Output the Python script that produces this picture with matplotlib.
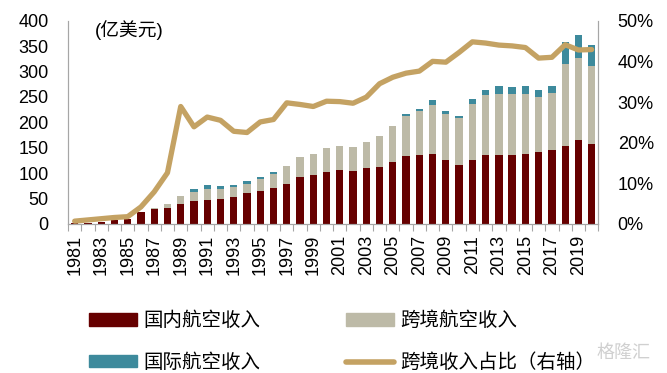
import matplotlib
matplotlib.use("Agg")
import matplotlib.pyplot as plt
import numpy as np
from matplotlib.patches import Patch
from matplotlib.lines import Line2D

plt.rcParams['font.family'] = ['Liberation Sans', 'Noto Sans CJK SC', 'DejaVu Sans']

years = list(range(1981, 2021))
domestic = [1, 2, 4.5, 7, 9, 23, 29, 32, 40, 46, 48, 50, 54, 60, 65, 71, 79, 92, 97, 103,
            106, 105, 110, 113, 122, 133, 136, 137, 126, 116, 126, 136, 136, 136, 137, 141, 146, 154, 165, 158]
crossborder = [0, 0, 0.1, 0.1, 0.2, 1, 2, 7, 15, 17, 21, 19, 19, 19, 23, 27, 35, 39, 41, 46,
               48, 47, 51, 60, 71, 80, 86, 98, 90, 92, 111, 118, 119, 119, 119, 109, 112, 160, 161, 153]
international = [0, 0, 0, 0, 0, 0, 0, 0, 0, 6, 7, 5, 3, 5, 4, 4, 0, 0, 0, 0,
                 0, 0, 0, 0, 0, 3, 4, 8, 6, 5, 8, 9, 16, 14, 15, 13, 14, 45, 45, 42]
share = [0.7, 1.0, 1.3, 1.6, 1.8, 4.2, 7.9, 12.6, 28.9, 23.9, 26.3, 25.5, 22.8, 22.5, 25.1, 25.7,
         29.8, 29.4, 28.9, 30.2, 30.1, 29.7, 31.2, 34.5, 36.1, 37.1, 37.6, 40.0, 39.8, 42.2,
         44.8, 44.5, 44.0, 43.8, 43.4, 40.8, 41.0, 44.1, 42.8, 42.9]
left_ticks = [0, 50, 100, 150, 200, 250, 300, 350, 400]
right_ticks = [0, 10, 20, 30, 40, 50]
labels = ['国内航空收入', '国际航空收入', '跨境航空收入', '跨境收入占比（右轴）']

c_dom = '#660000'
c_cross = '#BDBAA7'
c_intl = '#3D8A9C'
c_line = '#C4A263'
c_spine = '#A6A6A6'

fig = plt.figure(figsize=(6.67, 3.73), dpi=100)
ax = fig.add_axes([0.102, 0.3995, 0.795, 0.545])
x = np.array(years)
dom = np.array(domestic)
cro = np.array(crossborder)
intl = np.array(international)
w = 0.55
ax.bar(x, dom, w, color=c_dom, zorder=2)
ax.bar(x, cro, w, bottom=dom, color=c_cross, zorder=2)
ax.bar(x, intl, w, bottom=dom + cro, color=c_intl, zorder=2)
ax.set_xlim(1980.5, 2020.5)
ax.set_ylim(0, 400)
ax.set_yticks(left_ticks)
ax.tick_params(axis='y', length=0, labelsize=13, pad=14)
ax.set_xticks(np.arange(1980.5, 2021, 1))
ax.set_xticklabels([])
ax.set_xticks([y for y in years if y % 2 == 1], minor=True)
ax.set_xticklabels([str(y) for y in years if y % 2 == 1], minor=True, rotation=90, fontsize=13)
ax.tick_params(axis='x', which='major', length=5, color=c_spine)
ax.tick_params(axis='x', which='minor', length=0, pad=8)
ax.spines['top'].set_visible(False)
for s in ['left', 'bottom', 'right']:
    ax.spines[s].set_color(c_spine)
ax.text(0.05, 0.955, '(亿美元)', transform=ax.transAxes, fontsize=13.5, va='center', ha='left')

ax2 = ax.twinx()
ax2.plot(x, share, color=c_line, lw=3.8, solid_capstyle='round', solid_joinstyle='round', zorder=3)
ax2.set_ylim(0, 50)
ax2.set_yticks(right_ticks)
ax2.set_yticklabels([f'{t}%' for t in right_ticks])
ax2.tick_params(axis='y', length=0, labelsize=13, pad=14)
ax2.spines['top'].set_visible(False)
for s in ['left', 'bottom', 'right']:
    ax2.spines[s].set_color(c_spine)

handles = [Patch(color=c_dom), Patch(color=c_intl), Patch(color=c_cross),
           Line2D([0], [0], color=c_line, lw=4, solid_capstyle='round')]
fig.legend(handles, labels, ncol=2, loc='center left', bbox_to_anchor=(0.133, 0.083),
           frameon=False, fontsize=14, handlelength=2.5, handleheight=0.6, handletextpad=0.3,
           columnspacing=4.4, labelspacing=1.2, borderpad=0, borderaxespad=0)
fig.text(0.975, 0.03, '格隆汇', fontsize=13, color='#D0D0D0', ha='right', va='bottom')
fig.savefig('out.png', dpi=100)
